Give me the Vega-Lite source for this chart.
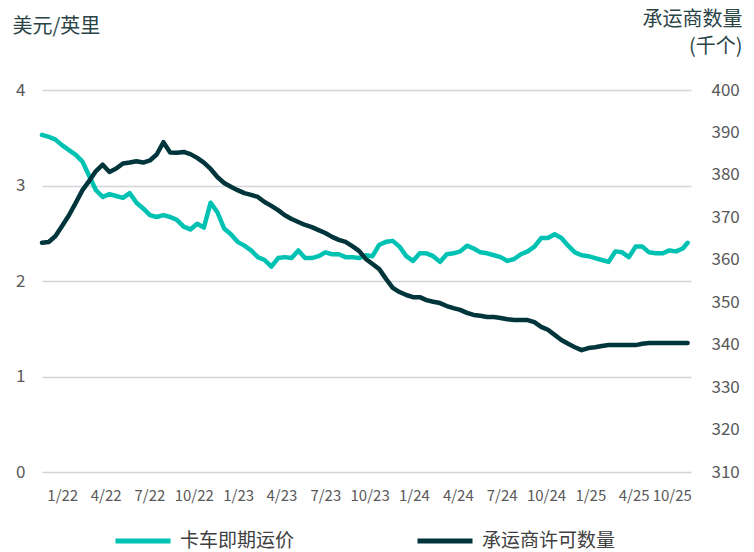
{
  "$schema": "https://vega.github.io/schema/vega-lite/v6.json",
  "width": 649,
  "height": 382,
  "autosize": {"type": "none"},
  "padding": {"left": 42, "top": 90, "right": 63, "bottom": 80},
  "config": {"view": {"stroke": null}, "font": "Noto Sans CJK SC"},
  "data": {"values": [
    {"date": "2021-11-20", "rate": 3.53, "carriers": 364.0},
    {"date": "2021-12-04", "rate": 3.51, "carriers": 364.2},
    {"date": "2021-12-18", "rate": 3.48, "carriers": 365.6},
    {"date": "2022-01-01", "rate": 3.42, "carriers": 368.0},
    {"date": "2022-01-15", "rate": 3.37, "carriers": 370.5},
    {"date": "2022-01-29", "rate": 3.32, "carriers": 373.4},
    {"date": "2022-02-12", "rate": 3.25, "carriers": 376.4},
    {"date": "2022-02-26", "rate": 3.10, "carriers": 378.6},
    {"date": "2022-03-12", "rate": 2.95, "carriers": 380.9},
    {"date": "2022-03-26", "rate": 2.88, "carriers": 382.4},
    {"date": "2022-04-09", "rate": 2.91, "carriers": 380.7},
    {"date": "2022-04-23", "rate": 2.89, "carriers": 381.5},
    {"date": "2022-05-07", "rate": 2.87, "carriers": 382.7},
    {"date": "2022-05-21", "rate": 2.92, "carriers": 382.9},
    {"date": "2022-06-04", "rate": 2.82, "carriers": 383.2},
    {"date": "2022-06-18", "rate": 2.76, "carriers": 382.9},
    {"date": "2022-07-02", "rate": 2.69, "carriers": 383.4},
    {"date": "2022-07-16", "rate": 2.67, "carriers": 384.8},
    {"date": "2022-07-30", "rate": 2.69, "carriers": 387.7},
    {"date": "2022-08-13", "rate": 2.67, "carriers": 385.3},
    {"date": "2022-08-27", "rate": 2.64, "carriers": 385.2},
    {"date": "2022-09-10", "rate": 2.57, "carriers": 385.4},
    {"date": "2022-09-24", "rate": 2.54, "carriers": 384.9},
    {"date": "2022-10-08", "rate": 2.60, "carriers": 384.0},
    {"date": "2022-10-22", "rate": 2.56, "carriers": 382.9},
    {"date": "2022-11-05", "rate": 2.82, "carriers": 381.4},
    {"date": "2022-11-19", "rate": 2.72, "carriers": 379.5},
    {"date": "2022-12-03", "rate": 2.55, "carriers": 378.1},
    {"date": "2022-12-17", "rate": 2.49, "carriers": 377.2},
    {"date": "2022-12-31", "rate": 2.41, "carriers": 376.4},
    {"date": "2023-01-14", "rate": 2.37, "carriers": 375.7},
    {"date": "2023-01-28", "rate": 2.32, "carriers": 375.3},
    {"date": "2023-02-11", "rate": 2.25, "carriers": 374.8},
    {"date": "2023-02-25", "rate": 2.22, "carriers": 373.6},
    {"date": "2023-03-11", "rate": 2.15, "carriers": 372.7},
    {"date": "2023-03-25", "rate": 2.24, "carriers": 371.7},
    {"date": "2023-04-08", "rate": 2.25, "carriers": 370.5},
    {"date": "2023-04-22", "rate": 2.24, "carriers": 369.6},
    {"date": "2023-05-06", "rate": 2.32, "carriers": 368.9},
    {"date": "2023-05-20", "rate": 2.24, "carriers": 368.2},
    {"date": "2023-06-03", "rate": 2.24, "carriers": 367.7},
    {"date": "2023-06-17", "rate": 2.26, "carriers": 367.0},
    {"date": "2023-07-01", "rate": 2.30, "carriers": 366.3},
    {"date": "2023-07-15", "rate": 2.28, "carriers": 365.4},
    {"date": "2023-07-29", "rate": 2.28, "carriers": 364.7},
    {"date": "2023-08-12", "rate": 2.25, "carriers": 364.2},
    {"date": "2023-08-26", "rate": 2.25, "carriers": 363.2},
    {"date": "2023-09-09", "rate": 2.24, "carriers": 362.1},
    {"date": "2023-09-23", "rate": 2.27, "carriers": 360.2},
    {"date": "2023-10-07", "rate": 2.26, "carriers": 359.0},
    {"date": "2023-10-21", "rate": 2.38, "carriers": 357.8},
    {"date": "2023-11-04", "rate": 2.41, "carriers": 355.5},
    {"date": "2023-11-18", "rate": 2.42, "carriers": 353.4},
    {"date": "2023-12-02", "rate": 2.36, "carriers": 352.4},
    {"date": "2023-12-16", "rate": 2.26, "carriers": 351.7},
    {"date": "2023-12-30", "rate": 2.21, "carriers": 351.2},
    {"date": "2024-01-13", "rate": 2.29, "carriers": 351.2},
    {"date": "2024-01-27", "rate": 2.29, "carriers": 350.5},
    {"date": "2024-02-10", "rate": 2.26, "carriers": 350.1},
    {"date": "2024-02-24", "rate": 2.20, "carriers": 349.8},
    {"date": "2024-03-09", "rate": 2.28, "carriers": 349.1},
    {"date": "2024-03-23", "rate": 2.29, "carriers": 348.6},
    {"date": "2024-04-06", "rate": 2.31, "carriers": 348.2},
    {"date": "2024-04-20", "rate": 2.37, "carriers": 347.5},
    {"date": "2024-05-04", "rate": 2.34, "carriers": 347.0},
    {"date": "2024-05-18", "rate": 2.30, "carriers": 346.8},
    {"date": "2024-06-01", "rate": 2.29, "carriers": 346.5},
    {"date": "2024-06-15", "rate": 2.27, "carriers": 346.5},
    {"date": "2024-06-29", "rate": 2.25, "carriers": 346.3},
    {"date": "2024-07-13", "rate": 2.21, "carriers": 346.0},
    {"date": "2024-07-27", "rate": 2.23, "carriers": 345.8},
    {"date": "2024-08-10", "rate": 2.28, "carriers": 345.8},
    {"date": "2024-08-24", "rate": 2.31, "carriers": 345.8},
    {"date": "2024-09-07", "rate": 2.36, "carriers": 345.3},
    {"date": "2024-09-21", "rate": 2.45, "carriers": 344.2},
    {"date": "2024-10-05", "rate": 2.45, "carriers": 343.5},
    {"date": "2024-10-19", "rate": 2.49, "carriers": 342.3},
    {"date": "2024-11-02", "rate": 2.45, "carriers": 341.1},
    {"date": "2024-11-16", "rate": 2.37, "carriers": 340.2},
    {"date": "2024-11-30", "rate": 2.30, "carriers": 339.4},
    {"date": "2024-12-14", "rate": 2.27, "carriers": 338.7},
    {"date": "2024-12-28", "rate": 2.26, "carriers": 339.2},
    {"date": "2025-01-11", "rate": 2.24, "carriers": 339.4},
    {"date": "2025-01-25", "rate": 2.22, "carriers": 339.7},
    {"date": "2025-02-08", "rate": 2.20, "carriers": 339.9},
    {"date": "2025-02-22", "rate": 2.31, "carriers": 339.9},
    {"date": "2025-03-08", "rate": 2.30, "carriers": 339.9},
    {"date": "2025-03-22", "rate": 2.25, "carriers": 339.9},
    {"date": "2025-04-05", "rate": 2.36, "carriers": 339.9},
    {"date": "2025-04-19", "rate": 2.36, "carriers": 340.2},
    {"date": "2025-05-03", "rate": 2.30, "carriers": 340.4},
    {"date": "2025-05-17", "rate": 2.29, "carriers": 340.4},
    {"date": "2025-05-31", "rate": 2.29, "carriers": 340.4},
    {"date": "2025-06-14", "rate": 2.32, "carriers": 340.4},
    {"date": "2025-06-28", "rate": 2.31, "carriers": 340.4},
    {"date": "2025-07-12", "rate": 2.34, "carriers": 340.4},
    {"date": "2025-07-22", "rate": 2.40, "carriers": 340.4}
  ]},
  "encoding": {
    "x": {
      "field": "date",
      "type": "temporal",
      "scale": {"domain": [{"year": 2021, "month": 11, "date": 20}, {"year": 2025, "month": 7, "date": 29}]},
      "axis": {
        "title": null,
        "values": [
          {"year": 2022, "month": 1, "date": 1}, {"year": 2022, "month": 4, "date": 1}, {"year": 2022, "month": 7, "date": 1}, {"year": 2022, "month": 10, "date": 1},
          {"year": 2023, "month": 1, "date": 1}, {"year": 2023, "month": 4, "date": 1}, {"year": 2023, "month": 7, "date": 1}, {"year": 2023, "month": 10, "date": 1},
          {"year": 2024, "month": 1, "date": 1}, {"year": 2024, "month": 4, "date": 1}, {"year": 2024, "month": 7, "date": 1}, {"year": 2024, "month": 10, "date": 1},
          {"year": 2025, "month": 1, "date": 1}, {"year": 2025, "month": 4, "date": 1}, {"year": 2025, "month": 6, "date": 19}
        ],
        "labelExpr": "month(datum.value) == 5 ? '10/25' : (month(datum.value) + 1) + '/' + (year(datum.value) % 100)",
        "domain": false,
        "ticks": false,
        "grid": false,
        "labelFlush": false,
        "labelOverlap": false,
        "labelPadding": 16,
        "labelFontSize": 15,
        "labelColor": "#595959"
      }
    }
  },
  "layer": [
    {
      "mark": {"type": "line", "strokeWidth": 4.5, "strokeJoin": "round", "strokeCap": "round"},
      "encoding": {
        "y": {
          "field": "rate",
          "type": "quantitative",
          "scale": {"domain": [0, 4]},
          "axis": {
            "title": "美元/英里",
            "titleAngle": 0,
            "titleAlign": "left",
            "titleBaseline": "top",
            "titleX": -30,
            "titleY": -74,
            "titleFontSize": 20,
            "titleFontWeight": "normal",
            "titleColor": "#2a4446",
            "values": [0, 1, 2, 3, 4],
            "grid": true,
            "gridColor": "#d1d4d9",
            "gridWidth": 1.5,
            "domain": false,
            "ticks": false,
            "labelPadding": 17,
            "labelFontSize": 17,
            "labelColor": "#595959"
          }
        },
        "color": {
          "datum": "卡车即期运价",
          "type": "nominal",
          "scale": {"domain": ["卡车即期运价", "承运商许可数量"], "range": ["#00C2B2", "#00353B"]},
          "legend": {
            "orient": "none",
            "legendX": 71,
            "legendY": 421,
            "direction": "horizontal",
            "columns": 2,
            "title": null,
            "symbolType": "stroke",
            "symbolSize": 3025,
            "symbolStrokeWidth": 5,
            "labelFontSize": 19,
            "labelColor": "#404040",
            "labelOffset": 7,
            "columnPadding": 112,
            "labelLimit": 300
          }
        }
      }
    },
    {
      "mark": {"type": "line", "strokeWidth": 4.5, "strokeJoin": "round", "strokeCap": "round"},
      "encoding": {
        "y": {
          "field": "carriers",
          "type": "quantitative",
          "scale": {"domain": [310, 400]},
          "axis": {
            "orient": "right",
            "title": ["承运商数量", "(千个)\u00a0\u00a0"],
            "titleAngle": 0,
            "titleAlign": "right",
            "titleBaseline": "top",
            "titleX": 51,
            "titleY": -81,
            "titleLineHeight": 27,
            "titleFontSize": 20,
            "titleFontWeight": "normal",
            "titleColor": "#2a4446",
            "values": [310, 320, 330, 340, 350, 360, 370, 380, 390, 400],
            "grid": false,
            "domain": false,
            "ticks": false,
            "labelPadding": 20,
            "labelFontSize": 17,
            "labelColor": "#595959"
          }
        },
        "color": {"datum": "承运商许可数量", "type": "nominal"}
      }
    }
  ],
  "resolve": {"scale": {"y": "independent"}}
}
